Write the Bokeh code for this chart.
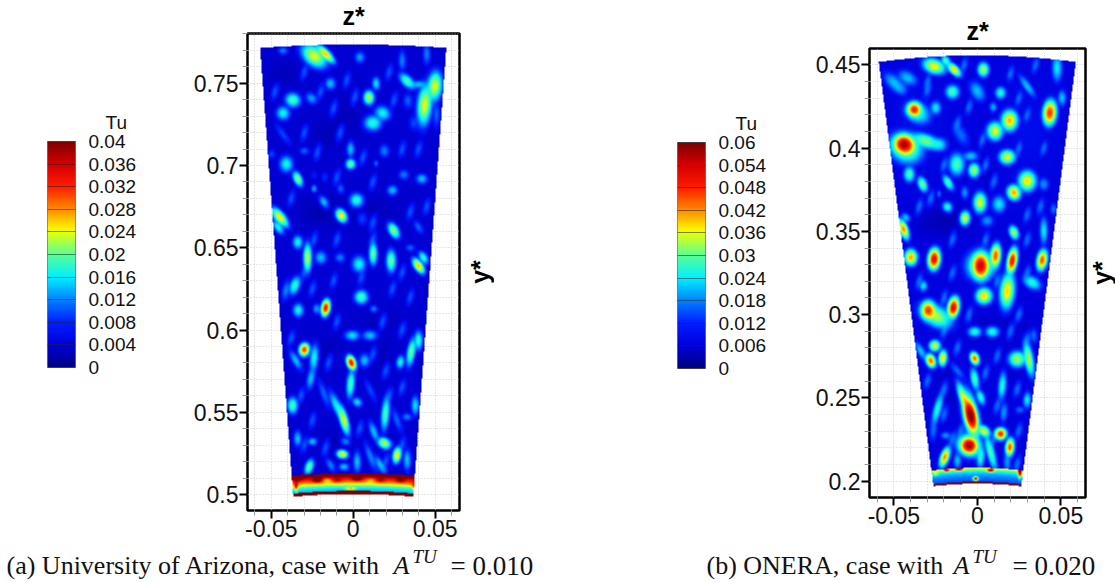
import numpy as np
from bokeh.embed import file_html
from bokeh.layouts import column, row
from bokeh.models import FixedTicker, Grid, Label, LinearAxis, LinearColorMapper, Range1d, Title
from bokeh.plotting import figure
from bokeh.resources import INLINE

legend_title = "Tu"
levels_a = [0, 0.004, 0.008, 0.012, 0.016, 0.02, 0.024, 0.028, 0.032, 0.036, 0.04]
level_labels_a = ["0", "0.004", "0.008", "0.012", "0.016", "0.02", "0.024", "0.028", "0.032", "0.036", "0.04"]
levels_b = [0, 0.006, 0.012, 0.018, 0.024, 0.03, 0.036, 0.042, 0.048, 0.054, 0.06]
level_labels_b = ["0", "0.006", "0.012", "0.018", "0.024", "0.03", "0.036", "0.042", "0.048", "0.054", "0.06"]
cmap_pos = [0, .1, .2, .3, .4, .5, .6, .62, .7, .8, .9, 1]
cmap_r = [0, 0, 0, 0, 0, 90, 230, 255, 255, 255, 215, 128]
cmap_g = [0, 0, 30, 130, 240, 255, 255, 240, 140, 30, 0, 0]
cmap_b = [130, 220, 255, 255, 255, 150, 10, 0, 0, 0, 0, 0]

zticks = [-0.05, 0, 0.05]
zlabels = ["-0.05", "0", "0.05"]
yticks_a = [0.5, 0.55, 0.6, 0.65, 0.7, 0.75]
ylabels_a = ["0.5", "0.55", "0.6", "0.65", "0.7", "0.75"]
yticks_b = [0.2, 0.25, 0.3, 0.35, 0.4, 0.45]
ylabels_b = ["0.2", "0.25", "0.3", "0.35", "0.4", "0.45"]

spots_a = [
(-.024,.7668,.024,.005,.0025,-40),(-.017,.768,.026,.004,.001,-45),(-.043,.770,.010,.002,.0012,0),(.004,.766,.011,.0022,.0015,90),
(.03,.764,.010,.004,.001,90),(.045,.768,.010,.004,.0012,90),(.033,.7515,.016,.0035,.0015,-45),(.040,.7495,.012,.003,.0012,0),
(.050,.7485,.024,.005,.002,85),(.0437,.737,.020,.007,.002,85),(.051,.731,.009,.005,.0012,90),(-.014,.75,.012,.002,.0018,0),
(-.037,.74,.016,.0028,.002,-20),(-.0256,.741,.011,.0025,.0015,-45),(-.043,.732,.014,.0025,.002,0),(.0096,.7415,.019,.0025,.0015,90),
(.014,.75,.013,.0025,.0012,90),(.018,.732,.014,.003,.002,-30),(.012,.726,.015,.0032,.0022,0),(.0335,.7395,.009,.003,.0015,90),
(.037,.726,.008,.003,.0015,90),(-.043,.719,.008,.005,.0012,-55),(-.030,.709,.009,.002,.001,0),(-.0016,.710,.012,.003,.001,90),
(-.0016,.701,.017,.0018,.0015,0),(.019,.709,.010,.002,.002,0),(.014,.7014,.009,.001,.001,0),(-.041,.701,.014,.003,.002,90),
(-.05,.707,.008,.0015,.0015,0),(-.034,.692,.018,.0028,.0012,-65),(-.024,.686,.011,.0012,.0012,0),(-.0077,.686,.009,.002,.001,90),
(-.018,.678,.012,.0025,.0012,-60),(.002,.679,.015,.0025,.002,90),(-.0073,.6696,.021,.0025,.0014,-60),(-.0175,.693,.007,.002,.001,90),
(-.024,.694,.006,.002,.001,90),(.024,.685,.012,.002,.0015,0),(.031,.6945,.010,.002,.0015,0),(.042,.692,.012,.0022,.0015,0),
(-.045,.6686,.025,.004,.0014,-50),(-.046,.6625,.014,.003,.0012,-55),(.0248,.6605,.018,.003,.0014,-60),(.0055,.6676,.008,.002,.002,0),
(.04,.6625,.009,.003,.001,-60),(-.034,.6534,.014,.0025,.0015,90),(-.028,.644,.019,.005,.0012,90),(-.0199,.644,.012,.0025,.0018,90),
(-.0081,.644,.010,.002,.0015,0),(.0035,.64,.014,.003,.002,90),(.0122,.6463,.017,.004,.0012,90),(.0232,.642,.017,.004,.0014,90),
(.043,.644,.015,.0025,.0012,-60),(.040,.639,.022,.003,.001,-55),(.035,.650,.009,.002,.001,0),
(-.0358,.627,.015,.0035,.0015,70),(-.0413,.624,.010,.004,.0012,80),(-.0169,.6134,.033,.0028,.0012,80),(-.0224,.6128,.011,.002,.0012,90),
(-.0337,.612,.014,.002,.002,0),(.0049,.62,.016,.0025,.002,0),(.0126,.6128,.010,.0015,.001,90),(-.0006,.5966,.013,.0028,.0015,0),
(.0102,.5966,.012,.0028,.0015,0),(-.030,.588,.031,.0022,.0014,80),(-.0352,.5814,.012,.004,.001,-60),(-.024,.583,.014,.005,.0013,85),
(-.0012,.58,.033,.0025,.0012,-70),(-.0016,.567,.016,.005,.0012,85),(.0069,.5814,.012,.002,.002,0),(-.026,.5703,.012,.004,.0012,80),
(.04,.5936,.015,.0035,.001,90),(.0355,.5865,.017,.005,.0012,80),(.0289,.5804,.014,.0025,.0012,80),(-.0372,.554,.016,.003,.0015,90),
(-.0098,.553,.014,.006,.0013,-65),(-.0057,.545,.024,.005,.0011,-75),(-.0179,.561,.009,.006,.001,-70),(.0024,.556,.013,.002,.0013,-40),
(.0197,.549,.016,.006,.001,85),(.0106,.563,.008,.005,.0012,-65),(.0329,.547,.010,.002,.001,0),(.038,.554,.013,.0035,.001,90),
(.0268,.545,.009,.005,.001,-70),(-.0341,.5338,.012,.003,.001,90),(-.025,.532,.012,.0018,.001,0),(-.0047,.532,.010,.002,.001,-20),
(.0126,.538,.012,.004,.001,-70),(.019,.531,.019,.0025,.0015,-30),(-.0067,.5243,.025,.002,.0012,-10),(.0268,.5237,.025,.0028,.001,80),
(-.027,.5166,.017,.0028,.0012,70),(.0106,.5227,.010,.006,.001,-70),(.0024,.5196,.012,.004,.001,90),(.033,.5207,.012,.004,.001,90),
(-.0057,.5166,.012,.002,.0012,0),(.0167,.5176,.012,.004,.001,-60),(-.0138,.5176,.010,.003,.001,-60),
]
spots_b = [
(-.026,.4494,.037,.004,.002,-20),(-.014,.4474,.032,.003,.0012,-45),(-.019,.4528,.024,.002,.001,-60),(.0036,.4474,.028,.002,.002,0),
(-.05,.4394,.018,.005,.002,-45),(-.042,.4424,.018,.004,.002,-30),(-.046,.436,.014,.003,.002,-30),(-.015,.434,.024,.0025,.002,0),
(.014,.4334,.022,.002,.0018,0),(0,.4344,.018,.004,.002,-60),(.03,.4374,.018,.005,.001,-55),(.048,.4484,.020,.005,.0015,90),
(.051,.4304,.018,.003,.0013,90),(-.038,.4234,.048,.0025,.002,0),(-.036,.4214,.022,.005,.003,-30),(-.025,.4244,.020,.002,.002,0),
(.0096,.4248,.017,.0015,.0015,0),(.0436,.4214,.047,.0042,.0018,85),(.0194,.4168,.040,.0028,.0028,0),(.0106,.4104,.036,.0028,.0025,0),
(-.044,.4024,.056,.0035,.0025,-25),(-.043,.4004,.028,.006,.004,-30),(-.031,.4044,.026,.005,.002,-20),(-.023,.4024,.02,.003,.002,0),
(-.01,.4084,.014,.005,.002,-60),(.018,.3948,.030,.0028,.002,0),(-.0124,.3904,.024,.004,.0022,90),(-.002,.3868,.028,.002,.002,0),
(-.004,.3954,.018,.003,.0015,0),(-.041,.3844,.024,.002,.0022,0),(-.033,.3784,.026,.0028,.0013,-70),(-.0176,.3794,.024,.003,.0012,-60),
(.03,.3804,.038,.0035,.0024,90),(.022,.3734,.034,.0026,.0018,-70),(.04,.3784,.016,.002,.002,0),(-.023,.3726,.014,.001,.001,0),
(-.0076,.3734,.016,.0025,.0012,90),(.0016,.3674,.030,.0035,.0018,90),(.013,.3664,.020,.0026,.0025,0),(-.018,.3648,.022,.002,.0014,-60),
(-.0074,.358,.036,.0025,.0014,85),(.006,.3564,.016,.0025,.0018,0),(.046,.3634,.014,.0025,.001,90),(-.0444,.3514,.042,.0035,.0012,-70),
(-.043,.3584,.018,.002,.0008,-45),(.022,.3494,.028,.0025,.0013,-70),(.04,.3504,.020,.005,.0012,90),(-.026,.3334,.052,.0035,.0016,85),
(-.04,.3344,.034,.0022,.0022,0),(.011,.3354,.045,.004,.0014,85),(.021,.3324,.05,.0042,.0013,80),(.039,.3328,.045,.0035,.0014,80),
(.002,.3294,.052,.0028,.0035,0),(.002,.3294,.028,.005,.004,0),
(-.0324,.3172,.020,.002,.001,85),(.004,.3112,.032,.0028,.0022,0),(.018,.3142,.032,.006,.002,85),(.033,.3192,.022,.0035,.0018,-30),
(-.0296,.3026,.046,.0025,.0025,0),(-.025,.2992,.028,.006,.0028,-30),(-.0144,.3042,.052,.0035,.0015,80),(-.0016,.2896,.022,.0025,.0015,0),
(.009,.2896,.022,.0025,.0016,0),(.034,.2872,.014,.003,.001,90),(-.0256,.2812,.030,.002,.0016,0),(-.028,.2722,.044,.0024,.0013,-70),
(-.0208,.2738,.038,.0028,.0012,85),(-.034,.278,.018,.004,.001,-60),(-.0016,.2736,.044,.0022,.0012,-70),(.024,.2732,.028,.003,.0022,0),
(.031,.2732,.028,.006,.0013,-80),(-.0016,.2612,.024,.004,.001,-80),(-.012,.2662,.014,.004,.001,-50),(.015,.2572,.022,.005,.0012,85),
(.002,.2502,.022,.003,.001,-70),(.03,.2486,.02,.003,.001,85),(.0256,.2426,.014,.002,.0012,0),(-.008,.2492,.030,.006,.0012,-70),
(-.004,.2392,.058,.0052,.0016,-78),(-.004,.2392,.034,.0085,.002,-78),(-.024,.2432,.022,.006,.001,75),(.016,.2412,.016,.004,.001,85),
(.004,.2298,.030,.0025,.0014,-40),(.014,.2282,.048,.002,.0016,-60),(-.0264,.2302,.014,.004,.001,85),(-.019,.2272,.016,.002,.001,0),
(-.005,.2212,.056,.0028,.0022,-30),(-.005,.2212,.03,.0045,.003,-30),(.0196,.2202,.045,.003,.0012,85),(-.0196,.2142,.042,.0035,.0011,70),
(.008,.2172,.024,.007,.001,-75),(.002,.2142,.022,.004,.001,85),(.018,.2112,.016,.004,.001,90),(-.012,.212,.018,.003,.001,90),
]
veins_a = [(-.03,.757),(-.02,.745),(-.004,.752),(.022,.757),(.025,.74),(-.048,.745),(-.012,.735),(.001,.742),(-.03,.72),(-.022,.708),
(-.008,.72),(.03,.71),(.04,.71),(.006,.705),(-.038,.68),(-.01,.693),(.012,.69),(.035,.672),(.045,.675),(.012,.665),(-.024,.655),
(-.01,.655),(.012,.655),(.03,.635),(-.03,.635),(-.012,.63),(.005,.632),(.024,.625),(.035,.62),(-.025,.625),(.018,.605),(.03,.6),
(-.01,.605),(-.038,.595),(.02,.575),(.012,.585),(-.015,.58),(-.032,.56),(.03,.565),(.022,.56),(-.025,.545),(-.03,.53),(.004,.54),
(.03,.53),(.02,.52),(-.017,.528)]
veins_b = [(-.03,.44),(-.008,.45),(.02,.445),(.035,.45),(.025,.43),(-.03,.435),(-.005,.425),(.03,.42),(-.012,.415),(.003,.405),
(.04,.4),(.025,.4),(-.02,.39),(.005,.39),(-.028,.37),(.01,.38),(.03,.36),(.038,.365),(-.035,.365),(-.015,.345),(.005,.345),(.03,.345),
(-.035,.32),(-.015,.325),(.03,.325),(.012,.32),(-.02,.31),(-.005,.3),(.025,.3),(.03,.285),(-.02,.29),(.02,.29),(-.012,.28),(.012,.275),
(-.03,.26),(-.02,.255),(.005,.265),(.024,.255),(-.01,.23),(.025,.23),(-.02,.24),(.012,.245),(.01,.225),(-.015,.225),(.024,.21)]
shade_a = [(-.042,.7557,-.001,.006,.005),(-.004,.7314,-.001,.006,.008),(-.016,.719,-.001,.006,.006),(.005,.672,-.0012,.014,.006),
(-.02,.672,-.0012,.009,.006),(-.016,.5875,-.001,.005,.006),(.0167,.5855,-.001,.004,.008),(-.0138,.5308,-.001,.005,.005),
(.0167,.6057,-.001,.008,.004)]
shade_b = [(-.02,.3565,-.003,.012,.007),(.012,.292,-.002,.015,.005),(.007,.384,-.002,.004,.005),
(-.035,.415,.002,.01,.02),(.03,.41,.002,.012,.02),(-.018,.255,-.002,.005,.01),(.02,.27,-.002,.004,.008)]
band_depth_a = [0, .0016, .003, .0045, .0055, .0065, .008, .0095, .0115, .0126]
band_tu_a = [.04, .04, .034, .03, .027, .024, .019, .015, .0135, .013]
band_depth_b = [0, .0008, .002, .004, .007, .0096]
band_tu_b = [.036, .034, .026, .02, .016, .013]
bumps_a = [(-.022,.5085,.012,.002,.001),(.0024,.5095,.012,.002,.001),(.0167,.5085,.006,.002,.001),(.029,.5085,.008,.002,.001),
(-.0098,.5085,.006,.002,.001),(-.034,.509,.006,.002,.001),(-.016,.5085,-.006,.002,.001),(.0106,.5085,-.005,.002,.001),
(-.0016,.5034,.012,.002,.0006),(-.035,.5045,.012,.0008,.002),(.037,.5045,.006,.0008,.002)]
bumps_b = [(-.0184,.2062,.022,.0012,.0006),(-.011,.2068,.025,.0015,.0006),(.008,.2062,.03,.0015,.0006),(.0256,.2046,.03,.0008,.002),
(-.001,.2012,.04,.001,.0008),(-.025,.2042,.01,.001,.001)]
spread_long, spread_short = 1.5, 1.9


def blobs(zz, yy, spots, peak):
    total = np.zeros_like(zz)
    for z0, y0, tu, wa, wb, tilt in spots:
        a = np.radians(tilt)
        u = (zz - z0) * np.cos(a) + (yy - y0) * np.sin(a)
        v = -(zz - z0) * np.sin(a) + (yy - y0) * np.cos(a)
        lift = 1.2 if tu < .6 * peak else 1
        total += (lift * tu * np.exp(-.5 * ((u / (wa * spread_long)) ** 2 + (v / (max(wb, .0012) * spread_short)) ** 2))) ** 4
    return total ** .25


def soft(zz, yy, items):
    total = np.zeros_like(zz)
    for z0, y0, d, wz, wy in items:
        total += d * np.exp(-.5 * (((zz - z0) / wz) ** 2 + ((yy - y0) / wy) ** 2))
    return total


def field(zr, yr, nz, ny, spots, veins, vein_tu, shade, bumps, base, top, ctop, band_top, cband, low, clow, stripe,
          depths, tus, zlow, ylow, slope, peak):
    zz, yy = np.meshgrid(np.linspace(zr[0], zr[1], nz), np.linspace(yr[0], yr[1], ny))
    faint = [(z0, y0, vein_tu, .0035, .0012, 75) for z0, y0 in veins]
    tu = np.maximum(base + soft(zz, yy, shade), blobs(zz, yy, spots + faint, peak))
    yband = band_top - cband * zz ** 2
    ylowz = low - clow * zz ** 2
    inband = yy <= yband
    tu[inband] = (np.interp(yband - yy, depths, tus) + soft(zz, yy, bumps))[inband]
    tu[yy <= ylowz + stripe] = peak
    outside = (yy > top - ctop * zz ** 2) | (yy < ylowz) | (np.abs(zz) > zlow + (yy - ylow) * slope)
    tu[outside] = np.nan
    return tu


colors = ["#%02x%02x%02x" % (int(np.interp(t, cmap_pos, cmap_r)), int(np.interp(t, cmap_pos, cmap_g)), int(np.interp(t, cmap_pos, cmap_b)))
          for t in np.linspace(0, 1, 256)]
SANS = "Liberation Sans"
SERIF = "Liberation Serif"


def colorbar(width, left, top, levels, labels, bottom):
    p = figure(width=width, height=547, x_range=Range1d(0, 1), y_range=Range1d(0, levels[-1]), toolbar_location=None,
               output_backend="svg", min_border_left=left, min_border_right=width - left - 28, min_border_top=top,
               min_border_bottom=bottom, x_axis_type=None, y_axis_type=None, outline_line_color="#777777",
               title=Title(text=legend_title, align="left", offset=58, standoff=18, text_font=SANS, text_font_size="19px",
                           text_font_style="normal", text_color="#111111"))
    mapper = LinearColorMapper(palette=colors, low=0, high=levels[-1])
    p.image(image=[np.linspace(0, levels[-1], 256).reshape(256, 1)], x=0, y=0, dw=1, dh=levels[-1], color_mapper=mapper)
    ax = LinearAxis(ticker=FixedTicker(ticks=levels), major_label_overrides=dict(zip(levels, labels)),
                    axis_line_color=None, major_tick_in=28, major_tick_out=0, minor_tick_line_color=None,
                    major_tick_line_color="#222222", major_tick_line_alpha=.55, major_label_standoff=13,
                    major_label_text_font=SANS, major_label_text_font_size="19px", major_label_text_color="#111111")
    p.add_layout(ax, "right")
    p.grid.visible = False
    return p


def panel(zr, yr, yticks, ylabels, tu, peak, left, top, fw, fh, right, bottom, title_gap):
    p = figure(width=left + fw + right, height=top + fh + bottom, x_range=Range1d(*zr), y_range=Range1d(*yr),
               toolbar_location=None, output_backend="svg", min_border_left=left, min_border_right=right,
               min_border_top=top, min_border_bottom=bottom, x_axis_type=None, y_axis_type=None,
               outline_line_color="black", outline_line_width=2.5,
               title=Title(text="z*", align="center", vertical_align="top", standoff=title_gap, text_font=SANS, text_font_size="25px",
                           text_font_style="bold", text_color="black"))
    minor_z = [round(-.06 + .01 * i, 2) for i in range(13) if i not in (1, 6, 11)]
    first = np.ceil(yr[0] * 100) / 100
    minor_y = [round(first + .01 * i, 2) for i in range(30)]
    minor_y = [v for v in minor_y if yr[0] <= v <= yr[1] and v not in yticks]
    common = dict(axis_line_color=None, major_tick_in=0, major_tick_out=8, major_tick_line_width=2,
                  major_tick_line_color="black", minor_tick_in=0, minor_tick_out=5, minor_tick_line_color="#999999",
                  major_label_text_font=SANS, major_label_text_font_size="23px", major_label_text_color="#111111",
                  major_label_standoff=1)
    xax = LinearAxis(ticker=FixedTicker(ticks=zticks, minor_ticks=minor_z), major_label_overrides=dict(zip(zticks, zlabels)), **common)
    yax = LinearAxis(ticker=FixedTicker(ticks=yticks, minor_ticks=minor_y), major_label_overrides=dict(zip(yticks, ylabels)), **common)
    p.add_layout(xax, "below")
    p.add_layout(yax, "left")
    for dim, ax in ((0, xax), (1, yax)):
        p.add_layout(Grid(dimension=dim, ticker=ax.ticker, grid_line_color="#cfcfcf", grid_line_dash="1 2", grid_line_width=1,
                          minor_grid_line_color="#cfcfcf", minor_grid_line_dash="1 2", minor_grid_line_width=1))
    mapper = LinearColorMapper(palette=colors, low=0, high=peak, nan_color=(0, 0, 0, 0))
    p.image(image=[tu], x=zr[0], y=yr[0], dw=zr[1] - zr[0], dh=yr[1] - yr[0], color_mapper=mapper)
    return p


def y_title(width, top, fh, bottom):
    p = figure(width=width, height=top + fh + bottom, x_range=Range1d(0, 1), y_range=Range1d(0, 1), toolbar_location=None,
               output_backend="svg", min_border_left=width - 1, min_border_right=0, min_border_top=top, min_border_bottom=bottom,
               x_axis_type=None, y_axis_type=None, outline_line_color=None)
    p.grid.visible = False
    p.add_layout(LinearAxis(ticker=FixedTicker(ticks=[]), axis_line_color=None, major_tick_out=0, major_tick_in=0,
                            major_label_standoff=0, axis_label="y*", axis_label_standoff=0, axis_label_text_font=SANS,
                            axis_label_text_font_style="bold", axis_label_text_font_size="25px", axis_label_text_color="black"), "left")
    return p


zr_a, yr_a = (-.0645, .0648), (.4903, .7802)
zr_b, yr_b = (-.0646, .0648), (.1902, .4598)
tu_a = field(zr_a, yr_a, 212, 477, spots_a, veins_a, .0085, shade_a, bumps_a, .0036, .7738, .63, .5126, .95, .5, 1.2, .002,
             band_depth_a, band_tu_a, .0368, .4984, .0741, .04)
tu_b = field(zr_b, yr_b, 216, 449, spots_b, veins_b, .014, shade_b, bumps_b, .0065, .456, 1.14, .2078, 2.2, .1982, 2.2, .0012,
             band_depth_b, band_tu_b, .0264, .1966, .1288, .06)

cb_a = colorbar(180, 47, 141, levels_a, level_labels_a, 180)
main_a = panel(zr_a, yr_a, yticks_a, ylabels_a, tu_a, .04, 67, 33, 212, 477, 2, 37, 3)
lab_a = y_title(33, 33, 477, 37)
cb_b = colorbar(316, 183, 142, levels_b, level_labels_b, 179)
main_b = panel(zr_b, yr_b, yticks_b, ylabels_b, tu_b, .06, 59, 48, 216, 449, 2, 50, 3)
lab_b = y_title(28, 48, 449, 50)

cap = figure(width=1115, height=35, x_range=Range1d(0, 1115), y_range=Range1d(0, 35), toolbar_location=None,
             output_backend="svg", min_border=0, x_axis_type=None, y_axis_type=None, outline_line_color=None)
cap.grid.visible = False
for x, y, txt, style, size in [(6, 17, "(a) University of Arizona, case with", "normal", "26px"),
                               (393, 17, "A", "italic", "26px"), (412, 26, "TU", "italic", "19px"),
                               (450, 17, "= 0.010", "normal", "27px"),
                               (706, 17, "(b) ONERA, case with", "normal", "26px"),
                               (953, 17, "A", "italic", "26px"), (972, 26, "TU", "italic", "19px"),
                               (1012, 17, "= 0.020", "normal", "27px")]:
    cap.add_layout(Label(x=x, y=y, text=txt, text_font=SERIF, text_font_style=style, text_font_size=size,
                         text_baseline="alphabetic", text_color="#111111"))

page = column(row(column(cb_a), column(main_a), column(lab_a), column(cb_b), column(main_b), column(lab_b)), cap)
open("out.html", "w").write(file_html(page, INLINE))
